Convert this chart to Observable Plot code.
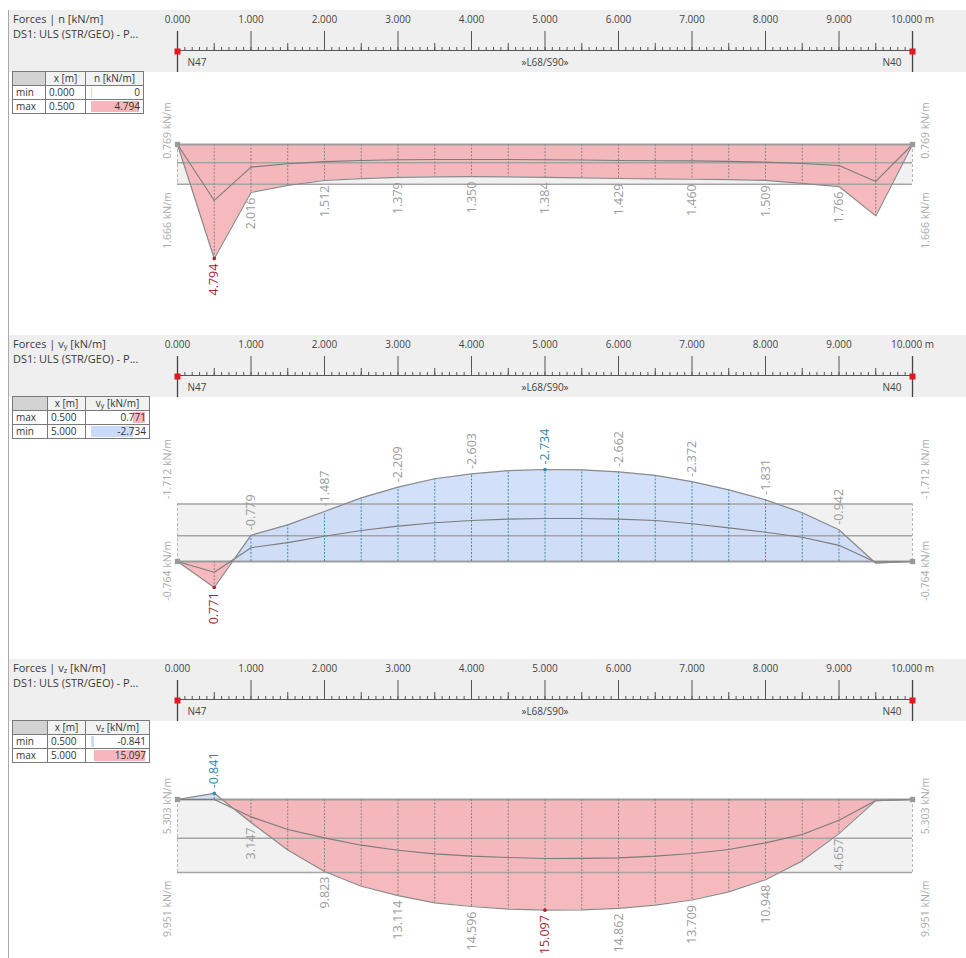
<!DOCTYPE html>
<html><head><meta charset="utf-8">
<script src="https://cdn.jsdelivr.net/npm/d3@7"></script>
<script src="https://cdn.jsdelivr.net/npm/@observablehq/plot@0.6"></script>
<style>
body{margin:0;background:#fff;font-family:"Open Sans",sans-serif;}
#root{position:relative;width:966px;height:958px;overflow:hidden;background:#fff;}
.frame{position:absolute;left:8px;top:10px;width:960px;height:950px;border-left:1px solid #a9a9a9;border-top:1px solid #a9a9a9;}
.band{position:absolute;left:9px;width:957px;height:62px;background:#efefef;}
.title{position:absolute;left:13px;font-size:11px;color:#3a3a3a;line-height:11px;height:11px;white-space:nowrap;}
.title sub{font-size:7.5px;vertical-align:-1px;line-height:0;}
.abs{position:absolute;left:0;}
table.res{position:absolute;left:12px;border-collapse:collapse;font-size:10px;color:#333;border:1px solid #4a4a4a;background:#fff;}
table.res td{border:1px solid #7a7a7a;height:13px;padding:0 3px;line-height:13px;position:relative;white-space:nowrap;}
table.res td sub{font-size:7px;vertical-align:-1px;line-height:0;}
table.res tr.hd td{background:#f2f2f2;text-align:center;}
table.res tr.hd td:first-child{background:#d3d3d3;}
.bar{position:absolute;top:1px;bottom:1px;}
.txt{position:relative;z-index:2;}
</style>
</head><body><div id="root"><div class="frame"></div></div>
<script>
// ---------- data ----------
const xs = [0, 0.5, 1, 1.5, 2, 2.5, 3, 3.5, 4, 4.5, 5, 5.5, 6, 6.5, 7, 7.5, 8, 8.5, 9, 9.5, 10];
const nOuter  = [0, 4.794, 2.016, 1.714, 1.512, 1.43, 1.379, 1.36, 1.350, 1.36, 1.384, 1.40, 1.429, 1.445, 1.460, 1.48, 1.509, 1.63, 1.766, 3.0, 0];
const nInner  = [0, 2.35, 0.95, 0.81, 0.72, 0.67, 0.64, 0.63, 0.63, 0.63, 0.64, 0.65, 0.67, 0.68, 0.69, 0.71, 0.74, 0.80, 0.88, 1.55, 0];
const vyOuter = [0, 0.771, -0.779, -1.09, -1.487, -1.89, -2.209, -2.46, -2.603, -2.70, -2.734, -2.72, -2.662, -2.56, -2.372, -2.13, -1.831, -1.45, -0.942, 0.05, 0];
const vyInner = [0, 0.32, -0.41, -0.56, -0.75, -0.92, -1.05, -1.15, -1.22, -1.26, -1.28, -1.28, -1.26, -1.22, -1.12, -1.00, -0.87, -0.72, -0.48, 0.02, 0];
const vzOuter = [0, -0.841, 3.147, 6.9, 9.823, 11.83, 13.114, 14.1, 14.596, 14.95, 15.097, 15.05, 14.862, 14.4, 13.709, 12.6, 10.948, 8.37, 4.657, 0.15, 0];
const vzInner = [0, 0, 2.37, 4.1, 5.24, 6.23, 6.92, 7.42, 7.73, 7.92, 8.05, 8.03, 7.96, 7.73, 7.37, 6.82, 5.92, 4.78, 2.83, 0.15, 0];
const nBands  = [0.769, 1.666];
const vyBands = [-0.764, -1.712];
const vzBands = [5.303, 9.951];
const labelXs = [0.5, 1, 2, 3, 4, 5, 6, 7, 8, 9];
const majorTicks = [0, 1, 2, 3, 4, 5, 6, 7, 8, 9, 10];
const tickLabels = ["0.000", "1.000", "2.000", "3.000", "4.000", "5.000", "6.000", "7.000", "8.000", "9.000", "10.000 m"];
const midTicks = [0.5, 1.5, 2.5, 3.5, 4.5, 5.5, 6.5, 7.5, 8.5, 9.5];
const nodeXs = [0, 5, 10];
const nodeLabels = ["N47", "»L68/S90»", "N40"];
const titles = ["Forces | n [kN/m]", "Forces | v<sub>y</sub> [kN/m]", "Forces | v<sub>z</sub> [kN/m]"];
const subtitle = "DS1: ULS (STR/GEO) - P...";
const tableHeads = ["n [kN/m]", "v<sub>y</sub> [kN/m]", "v<sub>z</sub> [kN/m]"];
const nTable  = [{k: "min", x: "0.000", v: 0,      s: "0"},      {k: "max", x: "0.500", v: 4.794,  s: "4.794"}];
const vyTable = [{k: "max", x: "0.500", v: 0.771,  s: "0.771"},  {k: "min", x: "5.000", v: -2.734, s: "-2.734"}];
const vzTable = [{k: "min", x: "0.500", v: -0.841, s: "-0.841"}, {k: "max", x: "5.000", v: 15.097, s: "15.097"}];

// ---------- layout / style ----------
const PINK = "#f4a9b0", BLUE = "#c4d6f7", RED = "#a3272d", TEAL = "#2f88ad", GRAY_TXT = "#9c9c9c";
const X0 = 177, X1 = 912;
const panels = [
  {top: 10,  chartH: 263, base: 72,  k: 23.8,  outer: nOuter,  inner: nInner,  bands: nBands,  table: nTable,  colW: [33, 40, 58]},
  {top: 335, chartH: 262, base: 164, k: 33.65, outer: vyOuter, inner: vyInner, bands: vyBands, table: vyTable, colW: [35, 38, 64]},
  {top: 659, chartH: 237, base: 78,  k: 7.33,  outer: vzOuter, inner: vzInner, bands: vzBands, table: vzTable, colW: [35, 38, 64]}
];
const root = document.getElementById("root");
const minorTicks = d3.range(0, 101).map(i => i / 10);

function split(xv, vv) {
  const pts = [];
  for (let i = 0; i < xv.length; i++) {
    if (i > 0 && vv[i - 1] * vv[i] < 0) {
      const t = vv[i - 1] / (vv[i - 1] - vv[i]);
      pts.push({x: xv[i - 1] + t * (xv[i] - xv[i - 1]), v: 0});
    }
    pts.push({x: xv[i], v: vv[i]});
  }
  return {
    pos: pts.map(p => ({x: p.x, y0: 0, v: Math.max(0, p.v)})),
    neg: pts.map(p => ({x: p.x, y0: 0, v: Math.min(0, p.v)}))
  };
}

panels.forEach((p, pi) => {
  // header band
  const band = document.createElement("div");
  band.className = "band"; band.style.top = p.top + "px";
  root.appendChild(band);
  const t1 = document.createElement("div");
  t1.className = "title"; t1.style.top = (p.top + 3) + "px"; t1.innerHTML = titles[pi];
  root.appendChild(t1);
  const t2 = document.createElement("div");
  t2.className = "title"; t2.style.top = (p.top + 18) + "px"; t2.textContent = subtitle;
  root.appendChild(t2);

  // ruler
  const ticksData = majorTicks.map((x, i) => ({x, label: tickLabels[i]}));
  const nodesData = nodeXs.map((x, i) => ({x, label: nodeLabels[i]}));
  const nodeStyle = {x: "x", text: "label", frameAnchor: "top", dy: 52, lineAnchor: "middle", fontSize: 10, fill: "#444"};
  const ruler = Plot.plot({
    width: 966, height: 62, margin: 0,
    x: {domain: [0, 10], range: [X0, X1], axis: null},
    style: {background: "transparent", fontFamily: "Open Sans", overflow: "visible"},
    marks: [
      Plot.rect([{x1: 0, x2: 10}], {x1: "x1", x2: "x2", insetTop: 40, insetBottom: 21, fill: "#555"}),
      Plot.tickX(minorTicks, {x: d => d, insetTop: 37, insetBottom: 21, stroke: "#555"}),
      Plot.tickX(midTicks, {x: d => d, insetTop: 33, insetBottom: 21, stroke: "#555"}),
      Plot.tickX(majorTicks, {x: d => d, insetTop: 21, insetBottom: 21, stroke: "#555"}),
      Plot.tickX([0, 10], {x: d => d, insetTop: 21, insetBottom: 0, stroke: "#444", strokeWidth: 1.3}),
      Plot.text(ticksData, {x: "x", text: "label", frameAnchor: "top", dy: 9, lineAnchor: "middle", fontSize: 10, fill: "#444"}),
      Plot.text(nodesData.filter(d => d.x === 0), {...nodeStyle, textAnchor: "start", dx: 10}),
      Plot.text(nodesData.filter(d => d.x > 0 && d.x < 10), {...nodeStyle, textAnchor: "middle"}),
      Plot.text(nodesData.filter(d => d.x === 10), {...nodeStyle, textAnchor: "end", dx: -11}),
      Plot.dot([0, 10], {x: d => d, frameAnchor: "top", dy: 41, symbol: "square", r: 3.4, fill: "#e3191f"})
    ]
  });
  ruler.classList.add("abs"); ruler.style.top = p.top + "px";
  root.appendChild(ruler);

  // chart
  const {pos, neg} = split(xs, p.outer);
  const outerPts = xs.map((x, i) => ({x, y0: 0, v: p.outer[i]}));
  const innerPts = xs.map((x, i) => ({x, v: p.inner[i]}));
  const inside = outerPts.filter(d => d.x > 0 && d.x < 10);
  const near = p.bands[0], far = p.bands[1];
  const vmax = d3.max(p.outer), vmin = d3.min(p.outer);
  const labels = labelXs.map(x => {
    const v = p.outer[xs.indexOf(x)];
    return {x, v, s: v.toFixed(3),
      c: (v === vmax && v > 0) ? RED : (v === vmin && v < 0) ? TEAL : GRAY_TXT};
  });
  const ext = labels.filter(d => d.c !== GRAY_TXT);
  const fmt = v => v.toFixed(3) + " kN/m";
  const pl = labels.filter(d => d.v > 0), nl = labels.filter(d => d.v < 0);
  const nearA = near > 0 ? "start" : "end", nearDy = near > 0 ? -4 : 5;
  const farA = far > 0 ? "end" : "start", farDy = far > 0 ? 8 : -5;
  const bl = (v, x, a, dy, dx) => Plot.text([{x, v}], {x: "x", y: "v", text: d => fmt(d.v), rotate: -90, textAnchor: a,
    dx, dy, lineAnchor: "middle", fontSize: 10.5, fill: "#ababab"});
  const chart = Plot.plot({
    width: 966, height: p.chartH, margin: 0,
    x: {domain: [0, 10], range: [X0, X1], axis: null},
    y: {domain: [0, 1], range: [p.base, p.base + p.k], axis: null},
    style: {background: "transparent", fontFamily: "Open Sans", overflow: "visible"},
    marks: [
      Plot.rect([{x1: 0, x2: 10, y1: 0, y2: far}], {x1: "x1", x2: "x2", y1: "y1", y2: "y2", fill: "#f1f1f1"}),
      Plot.ruleX([0, 10], {x: d => d, y1: () => 0, y2: () => far, stroke: "#b8b8b8", strokeDasharray: "3,2"}),
      Plot.area(pos, {x1: "x", y1: "y0", y2: "v", fill: PINK, fillOpacity: 0.82}),
      Plot.area(neg, {x1: "x", y1: "y0", y2: "v", fill: BLUE, fillOpacity: 0.75}),
      Plot.ruleY([near, far], {y: d => d, x1: () => 0, x2: () => 10, stroke: "#a4a4a4", strokeWidth: 1.5}),
      Plot.ruleY([0], {y: d => d, x1: () => 0, x2: () => 10, stroke: "#9c9c9c", strokeWidth: 2}),
      Plot.ruleX(inside.filter(d => d.v >= 0), {x: "x", y1: "y0", y2: "v", stroke: "#858585", strokeDasharray: "2,1.5"}),
      Plot.ruleX(inside.filter(d => d.v < 0), {x: "x", y1: "y0", y2: "v", stroke: "#3d8fb0", strokeDasharray: "2,1.5"}),
      Plot.line(innerPts, {x: "x", y: "v", stroke: "#7c7c7c", strokeWidth: 1.1}),
      Plot.line(outerPts, {x: "x", y: "v", stroke: "#8a8a8a", strokeWidth: 1.2}),
      Plot.dot([0, 10], {x: d => d, y: () => 0, symbol: "square", r: 3, fill: "#9a9a9a"}),
      Plot.dot(ext, {x: "x", y: "v", r: 1.8, fill: "c"}),
      Plot.text(pl, {x: "x", y: "v", text: "s", rotate: -90, textAnchor: "end", dy: 5, lineAnchor: "middle", fontSize: 12.5, fill: d => d.c}),
      Plot.text(nl, {x: "x", y: "v", text: "s", rotate: -90, textAnchor: "start", dy: -5, lineAnchor: "middle", fontSize: 12.5, fill: d => d.c}),
      bl(near, 0, nearA, nearDy, -10), bl(far, 0, farA, farDy, -10),
      bl(near, 10, nearA, nearDy, 13), bl(far, 10, farA, farDy, 13)
    ]
  });
  chart.classList.add("abs"); chart.style.top = (p.top + 62) + "px";
  root.appendChild(chart);

  // result table
  const vals = p.table.map(r => r.v);
  const lo = Math.min(0, ...vals), hi = Math.max(0, ...vals);
  const barW = p.colW[2] - 10;
  const sc = d3.scaleLinear().domain([lo, hi]).range([5, 5 + barW]);
  const tb = document.createElement("table");
  tb.className = "res"; tb.style.top = (p.top + 61) + "px";
  let html = `<tr class="hd"><td style="width:${p.colW[0] - 7}px"></td><td style="width:${p.colW[1] - 7}px">x [m]</td><td style="width:${p.colW[2] - 7}px">${tableHeads[pi]}</td></tr>`;
  p.table.forEach(r => {
    const a = sc(Math.min(0, r.v)), b = sc(Math.max(0, r.v));
    const w = Math.max(1.2, b - a);
    const col = r.v > 0 ? PINK : BLUE;
    html += `<tr><td>${r.k}</td><td>${r.x}</td><td style="text-align:right"><div class="bar" style="left:${a}px;width:${w}px;background:${col};opacity:${r.v > 0 ? 0.85 : 0.9}"></div><span class="txt">${r.s}</span></td></tr>`;
  });
  tb.innerHTML = html;
  root.appendChild(tb);
});
</script>
</body></html>
